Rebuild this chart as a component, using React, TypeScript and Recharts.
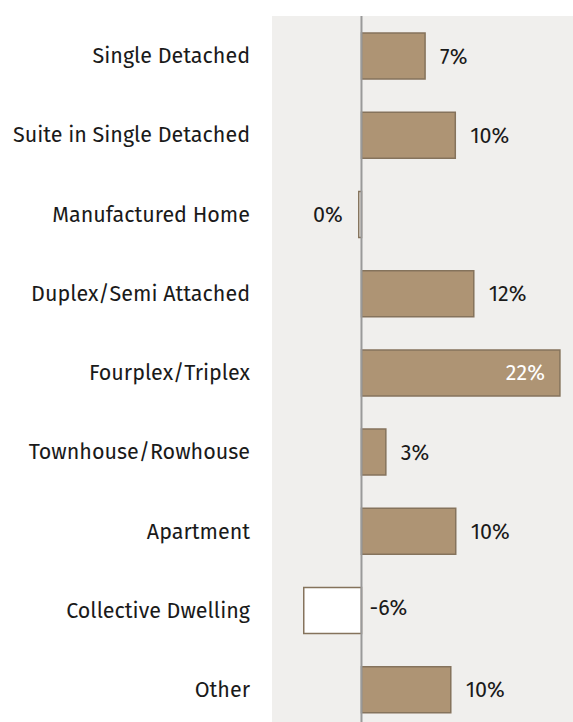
import { BarChart, Bar, XAxis, YAxis, CartesianGrid, ReferenceLine, Cell, LabelList } from 'recharts'

const categories = [
  'Single Detached',
  'Suite in Single Detached',
  'Manufactured Home',
  'Duplex/Semi Attached',
  'Fourplex/Triplex',
  'Townhouse/Rowhouse',
  'Apartment',
  'Collective Dwelling',
  'Other',
]
const changes = [7.05, 10.4, -0.3, 12.45, 22, 2.7, 10.45, -6.4, 9.9]

const data = categories.map((name, i) => ({ name, value: changes[i] }))

const FONT = '"Fira Sans", "Noto Sans", "Open Sans", sans-serif'
const FILL = '#ae9474'
const STROKE = '#85735c'
const SIZE = 21.5
const WEIGHT = 400
const INK = '#1a1a1a'

const ValueLabel = (props: any) => {
  const { x, y, width, height, value } = props
  const cy = y + height / 2
  const text = `${Math.round(value)}%`
  const common = { fontSize: SIZE, fontFamily: FONT, fontWeight: WEIGHT, dy: '0.35em' }
  if (value >= 20) {
    return (
      <text x={x + width - 15} y={cy} textAnchor="end" fill="#fff" {...common}>
        {text}
      </text>
    )
  }
  if (value < 0 && value > -1) {
    // tiny negative bar: label sits to the left
    const left = x + Math.min(0, width)
    return (
      <text x={left - 16} y={cy} textAnchor="end" fill={INK} {...common}>
        {text}
      </text>
    )
  }
  if (value < 0) {
    const zero = x + Math.max(0, width)
    return (
      <text x={zero + 8} y={cy - 3} textAnchor="start" fill={INK} {...common}>
        {text}
      </text>
    )
  }
  return (
    <text x={x + width + 15} y={cy} textAnchor="start" fill={INK} {...common}>
      {text}
    </text>
  )
}

export default function App() {
  return (
    <div style={{ position: 'fixed', top: 0, left: 0, width: 573, height: 722, overflow: 'hidden', background: '#fff' }}>
      <BarChart
        layout="vertical"
        width={573}
        height={729}
        data={data}
        margin={{ top: 16, right: 0, left: 0, bottom: 0 }}
      >
        <CartesianGrid fill="#f0efed" horizontal={false} vertical={false} stroke="none" />
        <XAxis type="number" hide domain={[-9.92, 23.45]} />
        <YAxis
          type="category"
          dataKey="name"
          width={272}
          axisLine={false}
          tickLine={false}
          tickSize={0}
          tickMargin={22}
          tick={{ fill: INK, fontSize: SIZE, fontFamily: FONT, fontWeight: WEIGHT }}
        />
        <Bar dataKey="value" barSize={46} isAnimationActive={false} stroke={STROKE} strokeWidth={1.5}>
          {data.map((d, i) => (
            <Cell key={i} fill={d.value < 0 ? '#ffffff' : FILL} />
          ))}
          <LabelList dataKey="value" content={<ValueLabel />} />
        </Bar>
        <ReferenceLine x={0} stroke="#9a9a9a" strokeWidth={2} />
      </BarChart>
    </div>
  )
}
